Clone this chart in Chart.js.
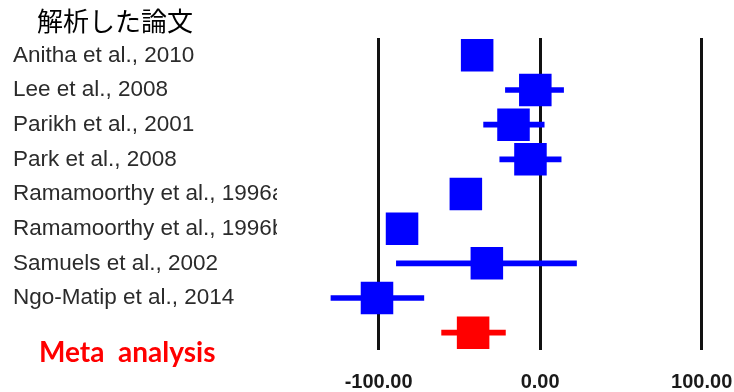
<!DOCTYPE html>
<html lang="ja">
<head>
<meta charset="utf-8">
<title>Forest plot</title>
<script src="https://cdn.jsdelivr.net/npm/chart.js@4.4.1/dist/chart.umd.min.js"></script>
<style>
  html, body { margin: 0; padding: 0; background: #fff; }
  #wrap { width: 734px; height: 392px; }
</style>
</head>
<body>
<div id="wrap"><canvas id="forest" width="734" height="392"></canvas></div>
<script>
// ---- data ----
var studies = [
    'Anitha et al., 2010',
    'Lee et al., 2008',
    'Parikh et al., 2001',
    'Park et al., 2008',
    'Ramamoorthy et al., 1996a',
    'Ramamoorthy et al., 1996b',
    'Samuels et al., 2002',
    'Ngo-Matip et al., 2014',
    'Meta  analysis'
];
var effects = [-39, -3, -16.5, -6, -46, -85.5, -33, -101, -41.5];
var ciLow   = [-45, -21.5, -35, -25, -52, -91, -89, -129.5, -61];
var ciHigh  = [-33, 14.5, 2.5, 13, -40, -80, 22.5, -72, -21.5];
var tickValues = [-100, 0, 100];
var xMin = -140;
var xMax = 120;
var titleText = '解析した論文';

var META_INDEX = studies.length - 1;
var colorFor = function (i) { return i === META_INDEX ? '#ff0000' : '#0000ff'; };

// labels outside the plot: heading + pooled row, and the cut-off of long names
var forestLabels = {
    id: 'forestLabels',
    beforeDraw: function (chart) {
        var ctx = chart.ctx;
        ctx.save();
        ctx.beginPath();
        ctx.rect(0, 0, 277, chart.height);
        ctx.rect(chart.chartArea.left, 0, chart.width - chart.chartArea.left, chart.height);
        ctx.clip();
    },
    afterDraw: function (chart) {
        var ctx = chart.ctx;
        ctx.restore();
        var yScale = chart.scales.y;

        ctx.save();
        ctx.fillStyle = '#000';
        ctx.textBaseline = 'middle';
        ctx.textAlign = 'left';
        ctx.font = '26px "Noto Sans CJK JP"';
        ctx.fillText(titleText, 37, 21);

        ctx.fillStyle = '#ff0000';
        ctx.font = 'bold 28px Lato';
        ctx.fillText(studies[META_INDEX], 39, yScale.getPixelForValue(META_INDEX) + 20);
        ctx.restore();
    }
};

var ciData = studies.map(function (s, i) { return [ciLow[i], ciHigh[i]]; });
var colors = studies.map(function (s, i) { return colorFor(i); });

new Chart(document.getElementById('forest'), {
    type: 'bar',
    data: {
        labels: studies,
        datasets: [
            {
                type: 'line',
                label: 'Effect',
                indexAxis: 'y',
                data: effects,
                showLine: false,
                pointStyle: 'rect',
                pointRadius: 23,
                pointBorderWidth: 0,
                pointBackgroundColor: colors,
                pointBorderColor: colors,
                order: 0
            },
            {
                type: 'bar',
                label: '95% CI',
                indexAxis: 'y',
                data: ciData,
                barThickness: 5,
                backgroundColor: colors,
                borderWidth: 0,
                order: 1
            }
        ]
    },
    options: {
        indexAxis: 'y',
        responsive: false,
        animation: false,
        events: [],
        layout: { autoPadding: false, padding: { left: 13, top: 38, right: 0, bottom: 0 } },
        plugins: {
            legend: { display: false },
            tooltip: { enabled: false },
            title: { display: false }
        },
        scales: {
            x: {
                type: 'linear',
                min: xMin,
                max: xMax,
                afterBuildTicks: function (scale) {
                    scale.ticks = tickValues.map(function (v) { return { value: v }; });
                },
                afterFit: function (scale) {
                    scale.height = 42;
                    scale.paddingLeft = 0;
                    scale.paddingRight = 0;
                },
                grid: { color: '#111', lineWidth: 3, drawTicks: false },
                border: { display: false },
                ticks: {
                    padding: 20,
                    color: '#1a1a1a',
                    font: { family: '"Liberation Sans", Arial', size: 20, weight: 'bold' },
                    callback: function (v) { return Number(v).toFixed(2); }
                }
            },
            y: {
                type: 'category',
                afterFit: function (scale) { scale.width = 301; },
                grid: { display: false },
                border: { display: false },
                ticks: {
                    crossAlign: 'far',
                    padding: 0,
                    color: '#2b2b2b',
                    font: { family: '"Liberation Sans", Arial', size: 22.5 },
                    callback: function (v, i) { return i === META_INDEX ? '' : this.getLabelForValue(v); }
                }
            }
        }
    },
    plugins: [forestLabels]
});
</script>
</body>
</html>
